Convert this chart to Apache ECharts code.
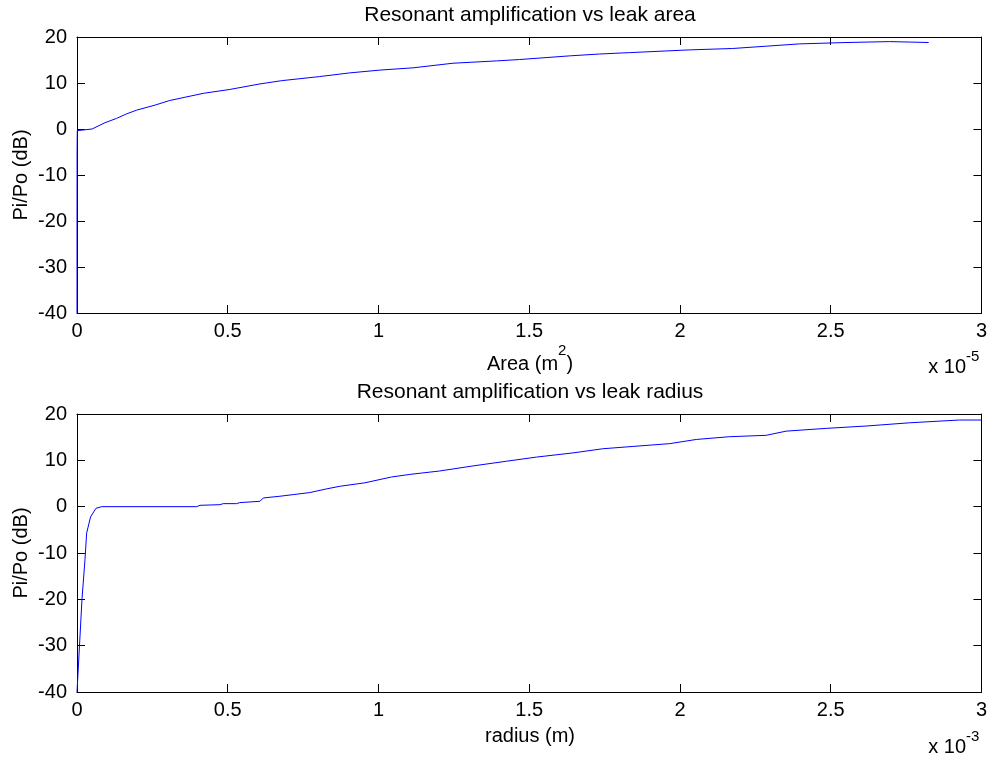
<!DOCTYPE html>
<html>
<head>
<meta charset="utf-8">
<script src="https://cdn.jsdelivr.net/npm/echarts@6/dist/echarts.min.js"></script>
<style>
html,body{margin:0;padding:0;background:#fff;}
#main{width:990px;height:759px;}
</style>
</head>
<body>
<div id="main"></div>
<script>
// ---- data (top plot: area in units of 1e-5 m^2) ----
const areaE5 = [0, 0.00009, 0.0002, 0.0003, 0.0006, 0.001, 0.002, 0.05, 0.054, 0.093, 0.131, 0.165, 0.198, 0.259, 0.308, 0.358, 0.419, 0.507, 0.607, 0.678, 0.805, 0.905, 1.004, 1.115, 1.247, 1.391, 1.468, 1.634, 1.733, 1.833, 2.032, 2.174, 2.286, 2.396, 2.551, 2.695, 2.761, 2.825];
const areaDb = [-40, -20, -11.4, -5.7, -2.2, -0.35, 0, 0, 0.3, 1.37, 2.3, 3.3, 4.1, 5.2, 6.2, 6.9, 7.75, 8.6, 9.8, 10.5, 11.4, 12.2, 12.8, 13.3, 14.3, 14.8, 15.1, 15.9, 16.3, 16.6, 17.2, 17.5, 18.0, 18.5, 18.8, 19.0, 18.9, 18.8];

// ---- data (bottom plot: radius in units of 1e-3 m) ----
const radiusE3 = [0, 0.0166, 0.0265, 0.032, 0.045, 0.063, 0.082, 0.397, 0.408, 0.474, 0.485, 0.529, 0.54, 0.607, 0.618, 0.673, 0.717, 0.772, 0.828, 0.872, 0.955, 1.043, 1.104, 1.203, 1.314, 1.424, 1.524, 1.645, 1.744, 1.844, 1.966, 2.054, 2.164, 2.286, 2.352, 2.485, 2.617, 2.761, 2.927, 3.0];
const radiusDb = [-40, -19.9, -11.4, -5.7, -2.2, -0.35, 0, 0, 0.29, 0.43, 0.65, 0.65, 0.87, 1.16, 1.88, 2.25, 2.6, 3.04, 3.84, 4.4, 5.15, 6.4, 6.96, 7.7, 8.8, 9.8, 10.7, 11.6, 12.5, 13.0, 13.6, 14.5, 15.1, 15.4, 16.3, 16.9, 17.4, 18.1, 18.7, 18.7];

// ---- axes / labels ----
const xTicks = {min: 0, max: 3, interval: 0.5};
const yTicks = {min: -40, max: 20, interval: 10};
const titles = ['Resonant amplification vs leak area', 'Resonant amplification vs leak radius'];
const yName = 'Pi/Po (dB)';
const xNames = ['Area (m{s|2})', 'radius (m)'];
const exponents = ['-5', '-3'];

const FONT = '"Liberation Sans", Arial, Helvetica, sans-serif';
const TICK_FS = 20;
const LABEL_FS = 20;
const TITLE_FS = 21;
const SUP_FS = 15;

function xAxis(grid, pos, labels) {
  return {
    type: 'value', gridIndex: grid, position: pos,
    min: xTicks.min, max: xTicks.max, interval: xTicks.interval,
    axisLine: {show: true, onZero: false, lineStyle: {color: '#000', width: 1}},
    axisTick: {show: true, inside: true, length: 8, lineStyle: {color: '#000', width: 1}},
    axisLabel: {show: labels, color: '#000', fontSize: TICK_FS, fontFamily: FONT, margin: 8},
    splitLine: {show: false}
  };
}
function yAxis(grid, pos, labels) {
  return {
    type: 'value', gridIndex: grid, position: pos,
    min: yTicks.min, max: yTicks.max, interval: yTicks.interval,
    axisLine: {show: true, onZero: false, lineStyle: {color: '#000', width: 1}},
    axisTick: {show: true, inside: true, length: 8, lineStyle: {color: '#000', width: 1}},
    axisLabel: {show: labels, color: '#000', fontSize: TICK_FS, fontFamily: FONT, margin: 10},
    splitLine: {show: false}
  };
}

const grids = [
  {left: 77, right: 8, top: 37, height: 276},
  {left: 77, right: 8, top: 414, height: 278}
];

function text(x, y, str, opts) {
  return Object.assign({
    type: 'text', x: x, y: y,
    style: Object.assign({
      text: str, fill: '#000', font: LABEL_FS + 'px ' + FONT,
      align: 'center', verticalAlign: 'middle'
    }, (opts && opts.style) || {})
  }, (opts && opts.el) || {});
}

const sup = {s: {fontSize: SUP_FS, fontFamily: FONT, lineHeight: 16, verticalAlign: 'top', fill: '#000'}};

const graphic = [
  text(530, 15, titles[0], {style: {font: TITLE_FS + 'px ' + FONT}}),
  text(530, 392, titles[1], {style: {font: TITLE_FS + 'px ' + FONT}}),
  text(21, 175, yName, {el: {rotation: Math.PI / 2}}),
  text(21, 553, yName, {el: {rotation: Math.PI / 2}}),
  text(530, 364, xNames[0], {style: {rich: sup, lineHeight: 42, fontSize: LABEL_FS, fontFamily: FONT}}),
  text(530, 736, xNames[1]),
  text(966, 367, 'x 10', {style: {align: 'right'}}),
  text(966, 357, exponents[0], {style: {align: 'left', font: SUP_FS + 'px ' + FONT}}),
  text(966, 747, 'x 10', {style: {align: 'right'}}),
  text(966, 737, exponents[1], {style: {align: 'left', font: SUP_FS + 'px ' + FONT}})
];

const option = {
  animation: false,
  backgroundColor: '#fff',
  grid: grids,
  xAxis: [xAxis(0, 'bottom', true), xAxis(0, 'top', false), xAxis(1, 'bottom', true), xAxis(1, 'top', false)],
  yAxis: [yAxis(0, 'left', true), yAxis(0, 'right', false), yAxis(1, 'left', true), yAxis(1, 'right', false)],
  series: [
    {
      type: 'line', xAxisIndex: 0, yAxisIndex: 0, showSymbol: false,
      data: areaE5.map((v, i) => [v, areaDb[i]]),
      lineStyle: {color: '#0000ff', width: 1}, itemStyle: {color: '#0000ff'}
    },
    {
      type: 'line', xAxisIndex: 2, yAxisIndex: 2, showSymbol: false,
      data: radiusE3.map((v, i) => [v, radiusDb[i]]),
      lineStyle: {color: '#0000ff', width: 1}, itemStyle: {color: '#0000ff'}
    }
  ],
  graphic: graphic
};

const chart = echarts.init(document.getElementById('main'), null, {renderer: 'canvas'});
chart.setOption(option);
</script>
</body>
</html>
